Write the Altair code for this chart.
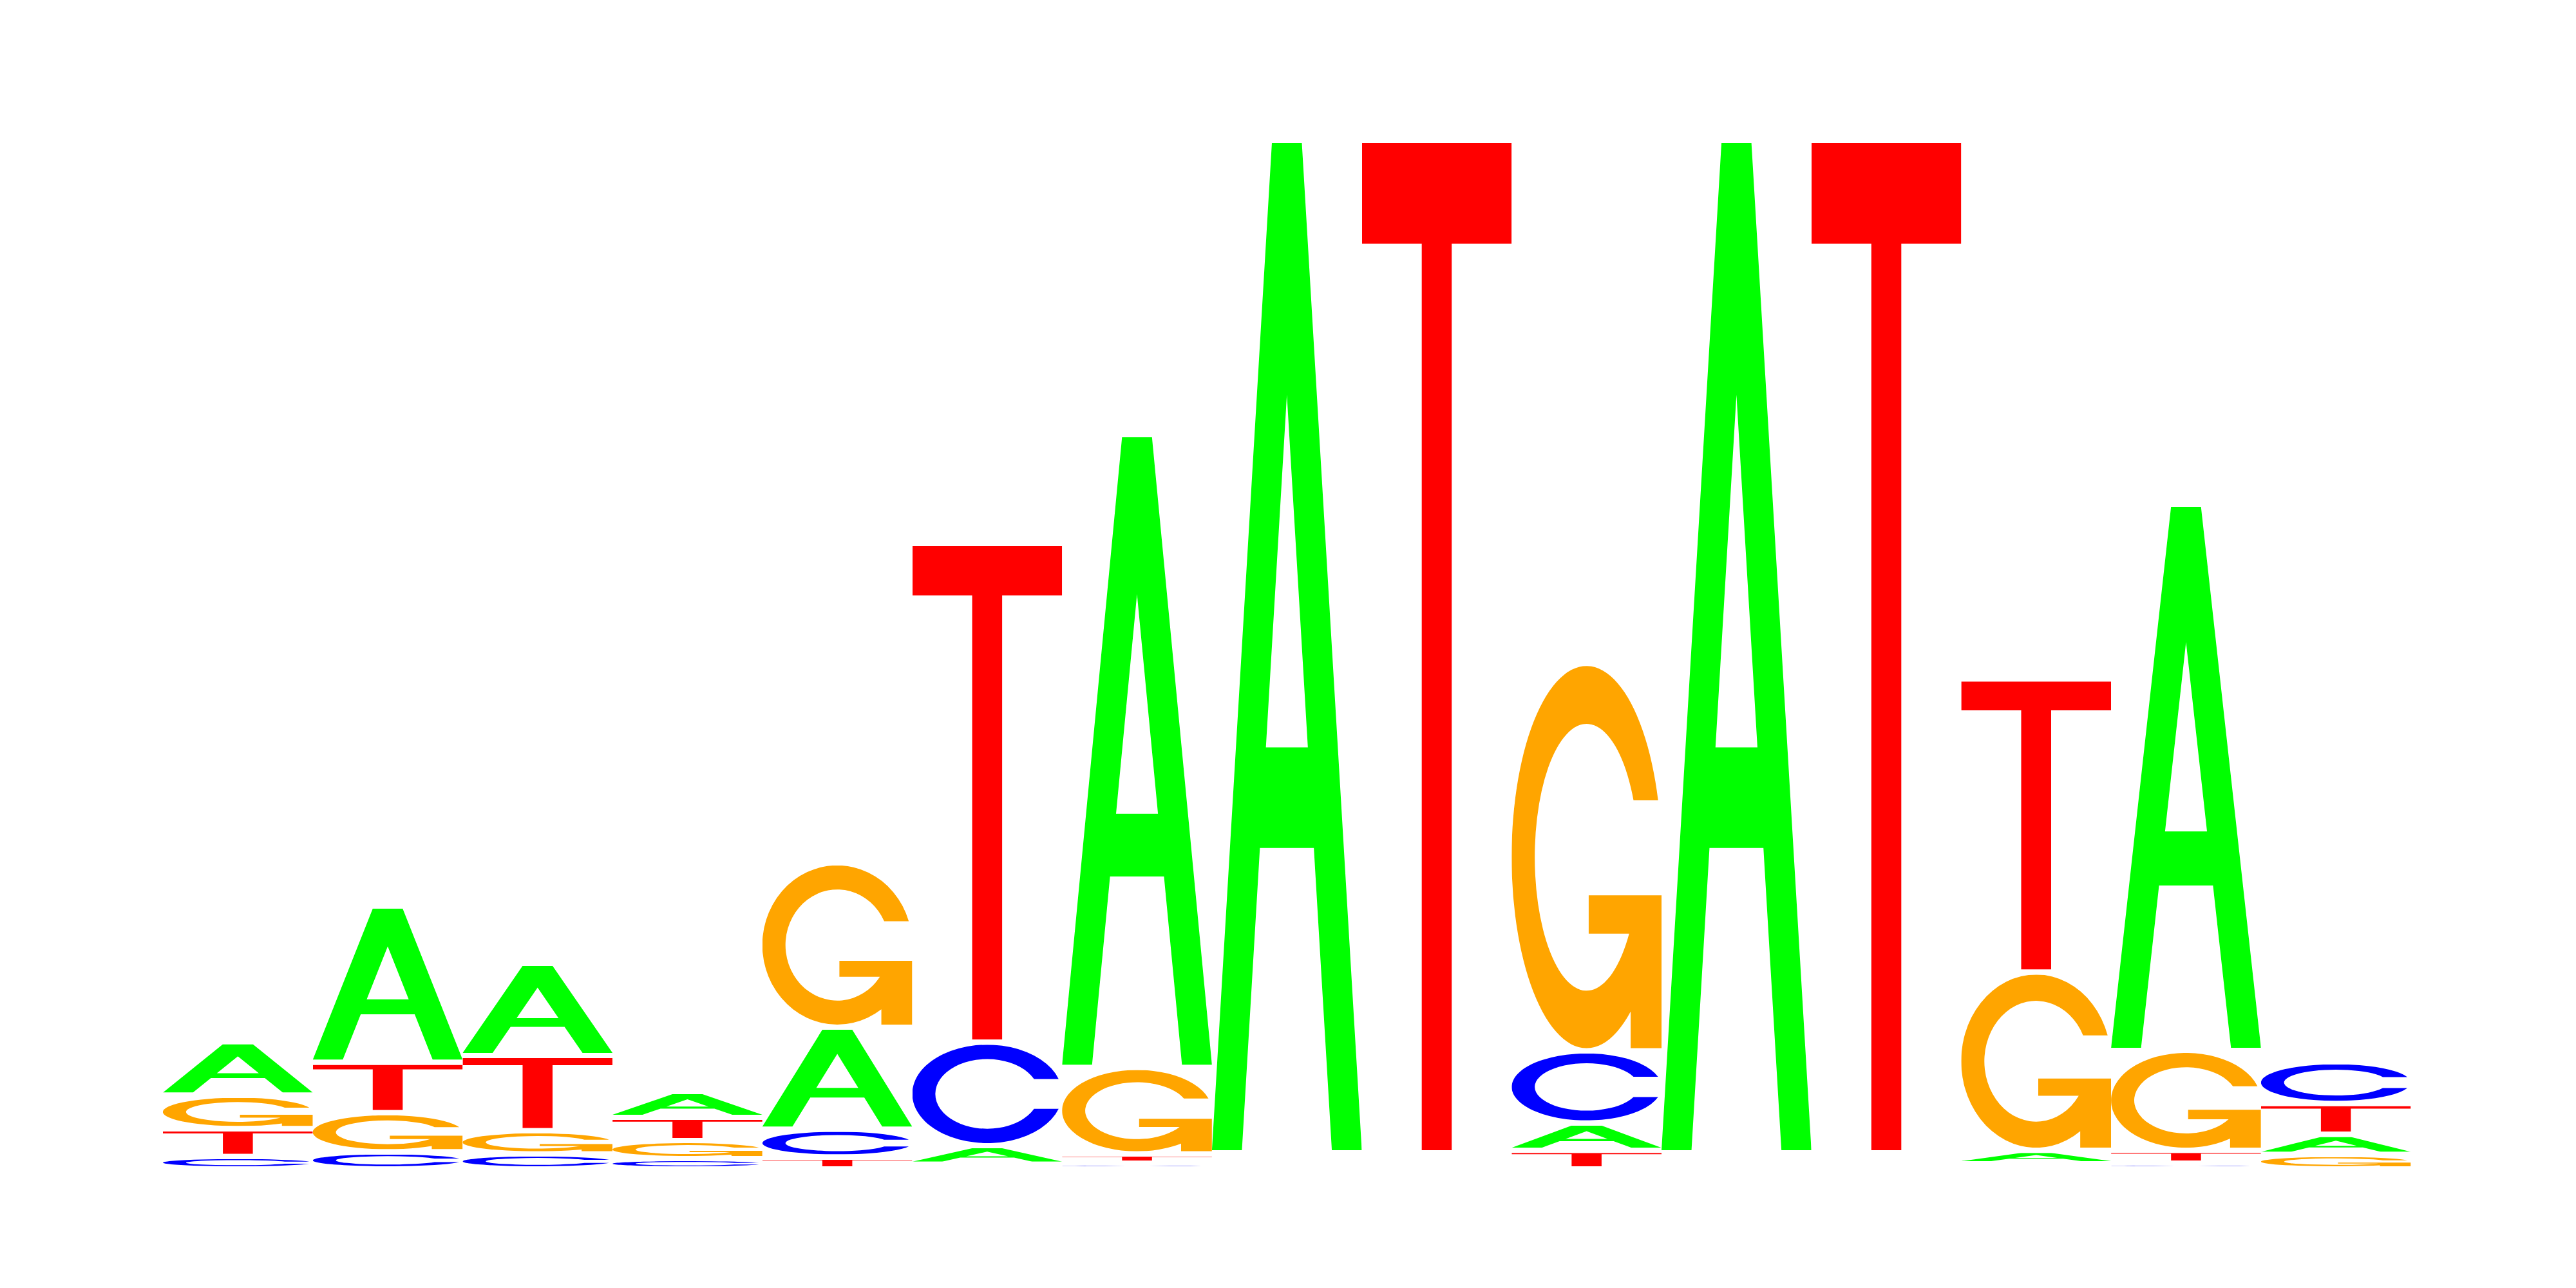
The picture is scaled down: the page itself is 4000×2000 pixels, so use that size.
import base64

import altair as alt
import pandas as pd

# sequence logo: 15 positions, each stack listed from bottom to top, heights in bits
positions = list(range(1, 16))
stack_letters = [
    ["C", "T", "G", "A"],
    ["C", "G", "T", "A"],
    ["C", "G", "T", "A"],
    ["C", "G", "T", "A"],
    ["T", "C", "A", "G"],
    ["G", "A", "C", "T"],
    ["C", "T", "G", "A"],
    ["C", "G", "T", "A"],
    ["A", "C", "G", "T"],
    ["T", "A", "C", "G"],
    ["C", "G", "T", "A"],
    ["A", "C", "G", "T"],
    ["C", "A", "G", "T"],
    ["C", "T", "G", "A"],
    ["G", "A", "T", "C"],
]
stack_bits = [
    [0.024, 0.054, 0.065, 0.104],
    [0.033, 0.076, 0.098, 0.303],
    [0.029, 0.045, 0.146, 0.179],
    [0.020, 0.035, 0.045, 0.050],
    [0.023, 0.054, 0.198, 0.319],
    [0.009, 0.036, 0.201, 0.968],
    [0.011, 0.018, 0.168, 1.228],
    [0.0104, 0.0104, 0.0104, 1.965],
    [0.0104, 0.0104, 0.0104, 1.965],
    [0.036, 0.053, 0.140, 0.752],
    [0.0104, 0.0104, 0.0104, 1.965],
    [0.0104, 0.0104, 0.0104, 1.965],
    [0.010, 0.026, 0.346, 0.569],
    [0.011, 0.025, 0.194, 1.060],
    [0.028, 0.039, 0.060, 0.081],
]

letter_colors = {"A": "#00ff00", "C": "#0000ff", "G": "#ffa500", "T": "#ff0000"}

# letter outlines in a 100x100 box, stretched to fill each letter's slot
glyph_paths = {
    "A": "M0,100 L40,0 L60,0 L100,100 L80,100 L68,70 L32,70 L20,100 Z "
         "M36,60 L64,60 L50,25 Z",
    "C": "M97.7,34.9 A50,50 0 1,0 97.7,65.1 L81.3,65.1 "
         "A34.6,35.4 0 1,1 81.3,34.9 Z",
    "G": "M97.7,35.1 A50,50 0 1,0 79.4,90.4 L79.4,100 L100,100 L100,60 "
         "L51.4,60 L51.4,70 L78.4,70 A34.6,34.9 0 1,1 81.3,35.1 Z",
    "T": "M0,0 H100 V10 H60 V100 H40 V10 H0 Z",
}


def glyph_url(letter):
    svg = (
        "<svg xmlns='http://www.w3.org/2000/svg' width='100' height='100' "
        "viewBox='0 0 100 100' preserveAspectRatio='none'>"
        f"<path d='{glyph_paths[letter]}' fill='{letter_colors[letter]}' "
        "fill-rule='evenodd'/></svg>"
    )
    return "data:image/svg+xml;base64," + base64.b64encode(svg.encode()).decode()


# layout in pixels: plot area, column placement, bits scale, white gap above each glyph
W, H = 3984, 1975
col_left, col_w = 245, 232.7
base_px, px_per_bit = 1803, 800
gap_bits = 8 / px_per_bit

rows = []
for pos, letters, bits in zip(positions, stack_letters, stack_bits):
    bottom = 0.0
    for letter, h in zip(letters, bits):
        top = bottom + h
        glyph_top = top - gap_bits
        if (glyph_top - bottom) * px_per_bit > 0.5:
            rows.append({
                "pos": pos, "letter": letter,
                "x0": pos - 0.5, "x1": pos + 0.5,
                "bottom": bottom, "top": glyph_top,
                "url": glyph_url(letter),
            })
        bottom = top
df = pd.DataFrame(rows)

x_dom = [0.5 - col_left / col_w, 0.5 + (W - col_left) / col_w]
y_dom = [-(H - base_px) / px_per_bit, base_px / px_per_bit]

chart = (
    alt.Chart(df)
    .mark_image(aspect=False)
    .encode(
        x=alt.X("x0:Q", scale=alt.Scale(domain=x_dom, nice=False, zero=False), axis=None),
        x2="x1:Q",
        y=alt.Y("top:Q", scale=alt.Scale(domain=y_dom, nice=False, zero=False), axis=None),
        y2="bottom:Q",
        url="url:N",
    )
    .properties(
        width=W, height=H, padding=0,
        autosize=alt.AutoSizeParams(type="none"),
        background="white",
    )
    .configure_view(stroke=None)
)

chart.save("out.html", embed_options={"renderer": "svg", "actions": False})
